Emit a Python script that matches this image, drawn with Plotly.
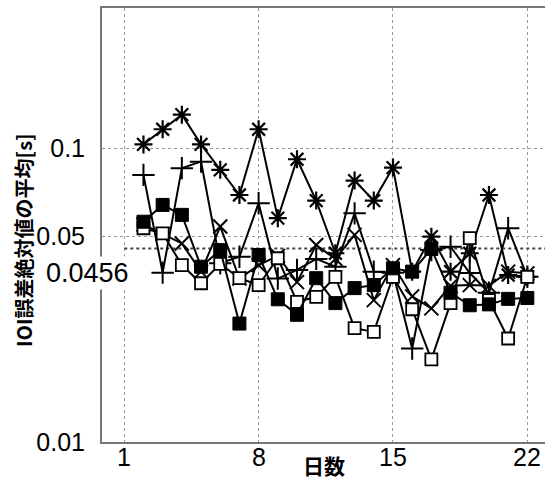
import plotly.graph_objects as go

days = list(range(2, 23))

# series values (mean absolute IOI error [s])
asterisk_vals = [0.103, 0.116, 0.130, 0.103, 0.0844, 0.0693, 0.116, 0.0578, 0.0917, 0.0663,
                 0.0439, 0.0776, 0.0663, 0.0859, 0.0380, 0.0500, 0.0380, 0.0439, 0.0693, 0.0370, 0.0365]
plus_vals = [0.0811, 0.0377, 0.0855, 0.0900, 0.0406, 0.0427, 0.0650, 0.0360, 0.0385, 0.0420,
             0.0395, 0.0600, 0.0380, 0.0377, 0.0208, 0.0450, 0.0462, 0.0376, 0.0322, 0.0534, 0.0365]
x_vals = [0.0550, 0.0510, 0.0474, 0.0380, 0.0541, 0.0360, 0.0400, 0.0430, 0.0350, 0.0468,
          0.0420, 0.0507, 0.0304, 0.0400, 0.0313, 0.0285, 0.0340, 0.0342, 0.0340, 0.0380, 0.0375]
filled_sq_vals = [0.0562, 0.0641, 0.0593, 0.0395, 0.0450, 0.0253, 0.0433, 0.0306, 0.0271, 0.0361,
                  0.0297, 0.0334, 0.0342, 0.0390, 0.0380, 0.0454, 0.0322, 0.0292, 0.0294, 0.0307, 0.0309]
open_sq_vals = [0.0534, 0.0513, 0.0400, 0.0347, 0.0404, 0.0361, 0.0342, 0.0422, 0.0300, 0.0312,
                0.0365, 0.0244, 0.0237, 0.0365, 0.0283, 0.0191, 0.0297, 0.0494, 0.0304, 0.0225, 0.0365]

ref_value = 0.0456
x_tick_vals = [1, 8, 15, 22]
x_tick_text = ["1", "8", "15", "22"]
y_tick_vals = [0.01, 0.05, 0.1]
y_tick_text = ["0.01", "0.05", "0.1"]

W, H = 545, 482
L, R, T, B = 102, 0, 8, 40
pw, ph = W - L - R, H - T - B
X0, X1 = -0.16, 22.92

def px2paper_x(px):
    return (px - L) / pw

def px2paper_y(py):
    return (H - B - py) / ph

fig = go.Figure()

line_style = dict(color="black", width=2)

# reference dotted line
fig.add_trace(go.Scatter(x=[1, X1], y=[ref_value, ref_value], mode="lines",
                         line=dict(color="#444444", width=2, dash="dot"), hoverinfo="skip"))

fig.add_trace(go.Scatter(x=days, y=asterisk_vals, mode="lines+markers", line=line_style,
                         marker=dict(symbol="asterisk-open", size=15, color="black",
                                     line=dict(color="black", width=2.2))))
fig.add_trace(go.Scatter(x=days, y=plus_vals, mode="lines+markers", line=line_style,
                         marker=dict(symbol="cross-thin-open", size=16, color="black",
                                     line=dict(color="black", width=2))))
fig.add_trace(go.Scatter(x=days, y=x_vals, mode="lines+markers", line=line_style,
                         marker=dict(symbol="x-thin-open", size=14, color="black",
                                     line=dict(color="black", width=2))))
fig.add_trace(go.Scatter(x=days, y=open_sq_vals, mode="lines+markers", line=line_style,
                         marker=dict(symbol="square", size=12, color="white",
                                     line=dict(color="black", width=1.8))))
fig.add_trace(go.Scatter(x=days, y=filled_sq_vals, mode="lines+markers", line=line_style,
                         marker=dict(symbol="square", size=13, color="black",
                                     line=dict(color="black", width=1))))

tick_font = dict(family="Arial, Liberation Sans, sans-serif", size=25, color="black")

fig.update_layout(
    width=W, height=H,
    margin=dict(l=L, r=R, t=T, b=B, pad=0),
    paper_bgcolor="white", plot_bgcolor="white",
    showlegend=False,
    xaxis=dict(range=[X0, X1], tickvals=x_tick_vals, ticktext=[""] * len(x_tick_vals),
               showgrid=True, gridcolor="#9a9a9a", griddash="dot", gridwidth=1,
               showline=True, linecolor="#777777", linewidth=2, mirror=True,
               ticks="", showticklabels=False, zeroline=False),
    yaxis=dict(type="log", range=[-2, -0.5229], tickvals=y_tick_vals, ticktext=y_tick_text,
               showgrid=True, gridcolor="#9a9a9a", griddash="dot", gridwidth=1,
               showline=True, linecolor="#777777", linewidth=2, mirror=False,
               ticks="", tickfont=tick_font, zeroline=False, ticklabelstandoff=10),
)

# x tick labels
for v, t in zip(x_tick_vals, x_tick_text):
    fig.add_annotation(text=t, xref="x", yref="paper", x=v, y=px2paper_y(457),
                       xanchor="center", yanchor="middle", showarrow=False,
                       font=tick_font)

fig.add_annotation(text="0.0456", xref="paper", yref="paper",
                   x=px2paper_x(131), y=px2paper_y(273), xanchor="right", yanchor="middle",
                   showarrow=False, bgcolor="white", borderpad=1,
                   font=dict(family="Arial, Liberation Sans, sans-serif", size=27, color="black"))

fig.add_annotation(text="<b>日数</b>", xref="paper", yref="paper",
                   x=px2paper_x(324), y=px2paper_y(465), xanchor="center", yanchor="middle",
                   showarrow=False, bgcolor="white",
                   font=dict(family="Noto Sans CJK JP", size=21, color="black"))

fig.add_annotation(text="<b>IOI誤差絶対値の平均[s]</b>", xref="paper", yref="paper",
                   x=px2paper_x(23), y=px2paper_y(240), xanchor="center", yanchor="middle",
                   textangle=-90, showarrow=False,
                   font=dict(family="Noto Sans CJK JP", size=20, color="black"))

fig.write_html("out.html")
